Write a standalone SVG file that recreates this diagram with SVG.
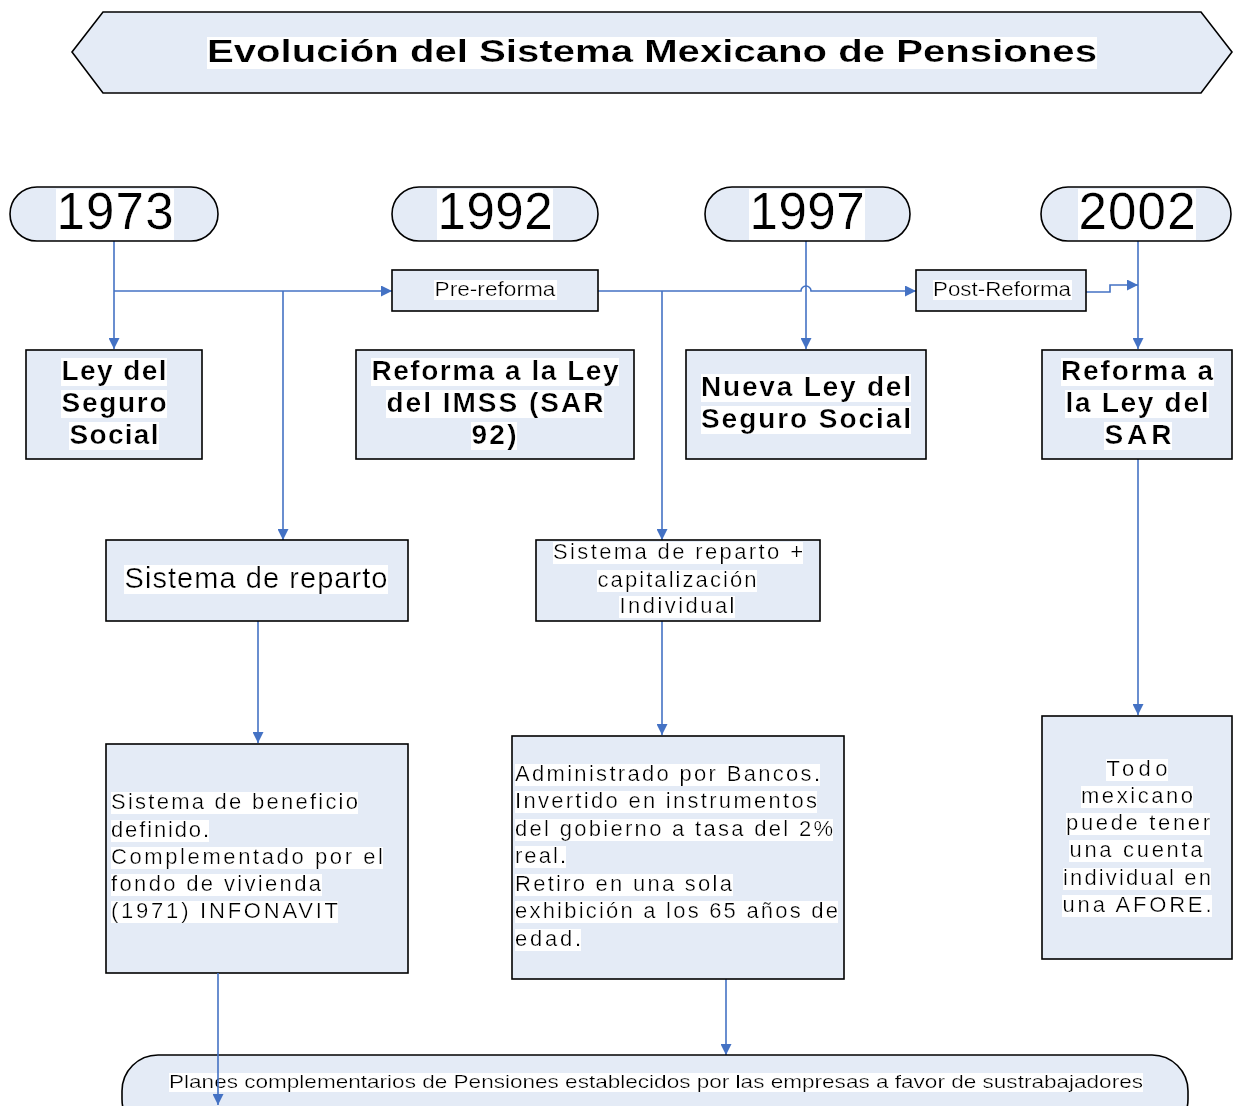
<svg xmlns="http://www.w3.org/2000/svg" width="1233" height="1106" viewBox="0 0 1233 1106">
<defs>
<style>
.n{fill:#E4EBF6;stroke:#000;stroke-width:1.6}
.t{font-family:"Liberation Sans",Arial,sans-serif;fill:#000;filter:url(#hl)}
.b{font-weight:bold}
.c{stroke:#4472C4;stroke-width:1.6;fill:none}
</style>
<filter id="hl" x="0" y="0.12" width="1" height="0.88"><feFlood flood-color="#fff"/><feComposite in="SourceGraphic" operator="over"/></filter>
<marker id="ar" viewBox="0 0 10 10" refX="10" refY="5" markerWidth="12" markerHeight="11" markerUnits="userSpaceOnUse" orient="auto"><path d="M0,0 L10,5 L0,10 z" fill="#4472C4"/></marker>
</defs>
<rect width="1233" height="1106" fill="#fff"/>

<g id="title">
<polygon class="n" points="72,52 103,12 1201,12 1232,52 1201,93 103,93"/>
<text class="t b" x="652" y="62" font-size="32" text-anchor="middle" textLength="890" lengthAdjust="spacingAndGlyphs">Evolución del Sistema Mexicano de Pensiones</text>
</g>

<g id="connectors">
<path class="c" d="M114,241 V349" marker-end="url(#ar)"/>
<path class="c" d="M114,291 H392" marker-end="url(#ar)"/>
<path class="c" d="M283,291 V540" marker-end="url(#ar)"/>
<path class="c" d="M598,291 H801 a5,5 0 0 1 10,0 H916" marker-end="url(#ar)"/>
<path class="c" d="M662,291 V540" marker-end="url(#ar)"/>
<path class="c" d="M806,241 V349" marker-end="url(#ar)"/>
<path class="c" d="M1086,292 H1110 V285 H1138" marker-end="url(#ar)"/>
<path class="c" d="M1138,241 V349" marker-end="url(#ar)"/>
<path class="c" d="M1138,459 V715" marker-end="url(#ar)"/>
<path class="c" d="M258,621 V743" marker-end="url(#ar)"/>
<path class="c" d="M662,621 V735" marker-end="url(#ar)"/>
<path class="c" d="M726,979 V1055" marker-end="url(#ar)"/>
</g>

<g id="y1973"><rect class="n" x="10" y="187" width="208" height="54" rx="27"/><text class="t" x="115" y="229" font-size="51" text-anchor="middle" textLength="117" lengthAdjust="spacing">1973</text></g>
<g id="y1992"><rect class="n" x="392" y="187" width="206" height="54" rx="27"/><text class="t" x="495" y="229" font-size="51" text-anchor="middle" textLength="115" lengthAdjust="spacing">1992</text></g>
<g id="y1997"><rect class="n" x="705" y="187" width="205" height="54" rx="27"/><text class="t" x="807" y="229" font-size="51" text-anchor="middle" textLength="115" lengthAdjust="spacing">1997</text></g>
<g id="y2002"><rect class="n" x="1041" y="187" width="190" height="54" rx="27"/><text class="t" x="1137" y="229" font-size="51" text-anchor="middle" textLength="117" lengthAdjust="spacing">2002</text></g>

<g id="prereforma"><rect class="n" x="392" y="270" width="206" height="41"/><text class="t" x="495" y="296" font-size="20" text-anchor="middle" textLength="121" lengthAdjust="spacingAndGlyphs">Pre-reforma</text></g>
<g id="postreforma"><rect class="n" x="916" y="270" width="170" height="41"/><text class="t" x="1002" y="296" font-size="20" text-anchor="middle" textLength="138" lengthAdjust="spacingAndGlyphs">Post-Reforma</text></g>

<g id="ley">
<rect class="n" x="26" y="350" width="176" height="109"/>
<text class="t b" x="114" y="380" font-size="28" text-anchor="middle" textLength="105">Ley del</text>
<text class="t b" x="114" y="412" font-size="28" text-anchor="middle" textLength="105">Seguro</text>
<text class="t b" x="114" y="444" font-size="28" text-anchor="middle" textLength="89">Social</text>
</g>
<g id="reforma92">
<rect class="n" x="356" y="350" width="278" height="109"/>
<text class="t b" x="495" y="380" font-size="28" text-anchor="middle" textLength="247">Reforma a la Ley</text>
<text class="t b" x="495" y="412" font-size="28" text-anchor="middle" textLength="217">del IMSS (SAR</text>
<text class="t b" x="494" y="444" font-size="28" text-anchor="middle" textLength="45">92)</text>
</g>
<g id="nueva">
<rect class="n" x="686" y="350" width="240" height="109"/>
<text class="t b" x="806" y="396" font-size="28" text-anchor="middle" textLength="210">Nueva Ley del</text>
<text class="t b" x="806" y="428" font-size="28" text-anchor="middle" textLength="210">Seguro Social</text>
</g>
<g id="reformasar">
<rect class="n" x="1042" y="350" width="190" height="109"/>
<text class="t b" x="1137" y="380" font-size="28" text-anchor="middle" textLength="152">Reforma a</text>
<text class="t b" x="1137" y="412" font-size="28" text-anchor="middle" textLength="143">la Ley del</text>
<text class="t b" x="1138" y="444" font-size="28" text-anchor="middle" textLength="67">SAR</text>
</g>

<g id="reparto">
<rect class="n" x="106" y="540" width="302" height="81"/>
<text class="t" x="256" y="588" font-size="29" text-anchor="middle" textLength="263">Sistema de reparto</text>
</g>
<g id="capitalizacion">
<rect class="n" x="536" y="540" width="284" height="81"/>
<text class="t" x="678" y="559" font-size="22" text-anchor="middle" textLength="250">Sistema de reparto +</text>
<text class="t" x="677" y="587" font-size="22" text-anchor="middle" textLength="159">capitalización</text>
<text class="t" x="677" y="613" font-size="22" text-anchor="middle" textLength="115">Individual</text>
</g>

<g id="beneficio">
<rect class="n" x="106" y="744" width="302" height="229"/>
<text class="t" x="111" y="809" font-size="22" textLength="247">Sistema de beneficio</text>
<text class="t" x="111" y="837" font-size="22" textLength="98">definido.</text>
<text class="t" x="111" y="864" font-size="22" textLength="272">Complementado por el</text>
<text class="t" x="111" y="891" font-size="22" textLength="210">fondo de vivienda</text>
<text class="t" x="111" y="918" font-size="22" textLength="227">(1971) INFONAVIT</text>
</g>
<g id="bancos">
<rect class="n" x="512" y="736" width="332" height="243"/>
<text class="t" x="515" y="781" font-size="22" textLength="305">Administrado por Bancos.</text>
<text class="t" x="515" y="808" font-size="22" textLength="302">Invertido en instrumentos</text>
<text class="t" x="515" y="836" font-size="22" textLength="318">del gobierno a tasa del 2%</text>
<text class="t" x="515" y="863" font-size="22" textLength="51">real.</text>
<text class="t" x="515" y="891" font-size="22" textLength="217">Retiro en una sola</text>
<text class="t" x="515" y="918" font-size="22" textLength="323">exhibición a los 65 años de</text>
<text class="t" x="515" y="946" font-size="22" textLength="66">edad.</text>
</g>
<g id="afore">
<rect class="n" x="1042" y="716" width="190" height="243"/>
<text class="t" x="1137" y="776" font-size="22" text-anchor="middle" textLength="61">Todo</text>
<text class="t" x="1137" y="803" font-size="22" text-anchor="middle" textLength="112">mexicano</text>
<text class="t" x="1138" y="830" font-size="22" text-anchor="middle" textLength="144">puede tener</text>
<text class="t" x="1136" y="857" font-size="22" text-anchor="middle" textLength="133">una cuenta</text>
<text class="t" x="1137" y="885" font-size="22" text-anchor="middle" textLength="148">individual en</text>
<text class="t" x="1137" y="912" font-size="22" text-anchor="middle" textLength="149">una AFORE.</text>
</g>

<g id="planes">
<rect class="n" x="122" y="1055" width="1066" height="80" rx="36"/>
<text class="t" x="656" y="1088" font-size="19" text-anchor="middle" textLength="974" lengthAdjust="spacingAndGlyphs">Planes complementarios de Pensiones establecidos por las empresas a favor de sustrabajadores</text>
</g>

<g id="connectors-over">
<path class="c" d="M218,973 V1105" marker-end="url(#ar)"/>
</g>
</svg>
